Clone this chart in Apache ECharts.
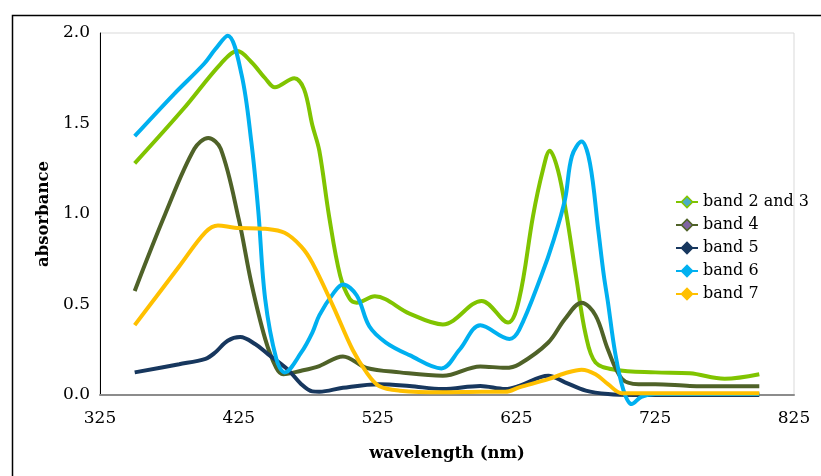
<!DOCTYPE html>
<html>
<head>
<meta charset="utf-8">
<script src="https://cdn.jsdelivr.net/npm/echarts@6/dist/echarts.min.js"></script>
<style>
html,body{margin:0;padding:0;background:#fff;}
#c{width:821px;height:476px;}
</style>
</head>
<body>
<div id="c"></div>
<script>
// ---- data (wavelength nm, absorbance) ----
const seriesNames = ['band 2 and 3', 'band 4', 'band 5', 'band 6', 'band 7'];
const xTicks = [325, 425, 525, 625, 725, 825];
const yTicks = [0.0, 0.5, 1.0, 1.5, 2.0];

const band23 = [[350,1.28],[385,1.58],[412,1.83],[424,1.90],[434,1.84],[444,1.75],[451,1.70],[465,1.75],[472,1.69],[478,1.49],[483,1.35],[490,0.99],[498,0.66],[505,0.53],[510,0.51],[523,0.545],[548,0.45],[572,0.39],[600,0.52],[619,0.40],[627,0.53],[637,0.99],[644,1.24],[649,1.35],[655,1.24],[661,1.0],[668,0.655],[675,0.33],[682,0.18],[696,0.14],[725,0.125],[750,0.12],[775,0.09],[800,0.115]];
const band4 = [[350,0.575],[372,1.0],[393,1.36],[403,1.42],[412,1.36],[425,0.97],[434,0.62],[444,0.31],[452,0.15],[457,0.115],[470,0.134],[483,0.16],[500,0.213],[517,0.15],[541,0.125],[572,0.106],[599,0.158],[617,0.15],[627,0.17],[648,0.29],[660,0.42],[672,0.51],[682,0.44],[691,0.25],[701,0.09],[713,0.06],[725,0.06],[750,0.05],[775,0.048],[800,0.048]];
const band5 = [[350,0.125],[382,0.17],[401,0.2],[408,0.235],[417,0.30],[426,0.32],[437,0.28],[446,0.226],[460,0.143],[470,0.06],[478,0.02],[483,0.018],[500,0.04],[526,0.06],[548,0.05],[572,0.033],[599,0.05],[617,0.033],[627,0.05],[648,0.106],[660,0.07],[675,0.024],[691,0.005],[710,0.0],[750,0.0],[800,0.0]];
const band6 = [[350,1.43],[378,1.66],[400,1.83],[408,1.91],[417,1.985],[427,1.77],[434,1.40],[439,1.02],[444,0.53],[452,0.20],[458,0.125],[470,0.235],[478,0.345],[483,0.44],[493,0.56],[500,0.61],[510,0.55],[519,0.38],[531,0.29],[548,0.22],[571,0.147],[584,0.25],[599,0.385],[620,0.31],[627,0.36],[643,0.66],[652,0.86],[660,1.08],[665,1.32],[672,1.40],[678,1.28],[684,0.91],[688,0.66],[691,0.51],[696,0.24],[702,0.03],[708,-0.05],[715,-0.01],[725,0.005],[750,0.005],[775,0.005],[800,0.005]];
const band7 = [[350,0.386],[382,0.71],[401,0.90],[410,0.937],[422,0.924],[444,0.918],[458,0.896],[470,0.82],[478,0.73],[493,0.49],[507,0.25],[517,0.125],[526,0.05],[541,0.024],[572,0.015],[600,0.018],[617,0.018],[627,0.042],[648,0.088],[660,0.12],[672,0.14],[682,0.115],[691,0.06],[701,0.01],[725,0.01],[750,0.01],[800,0.01]];

const seriesData = [band23, band4, band5, band6, band7];
const colors = ['#80C400', '#4F6228', '#17375E', '#00B0F0', '#FFC000'];
const markerFill = ['#4BACC6', '#8064A2', '#17375E', '#00B0F0', '#FFC000'];

const chart = echarts.init(document.getElementById('c'), null, {renderer: 'canvas'});
const serif = '"DejaVu Serif", "Liberation Serif", serif';

const option = {
  animation: false,
  backgroundColor: '#fff',
  graphic: [{
    type: 'rect', left: 10, top: 13, z: 100, silent: true,
    shape: {width: 840, height: 500},
    style: {fill: 'none', stroke: '#000', lineWidth: 1.5}
  }],
  grid: {left: 100, right: 27, top: 33, bottom: 81, show: true, borderColor: '#D9D9D9', borderWidth: 1, containLabel: false},
  legend: {
    orient: 'vertical', left: 675, top: 194, padding: 0,
    itemWidth: 22, itemHeight: 14, itemGap: 7,
    textStyle: {fontFamily: serif, fontSize: 16, color: '#000'},
    data: seriesNames.map((n, i) => ({name: n, itemStyle: {color: markerFill[i], borderColor: colors[i], borderWidth: 1.5}}))
  },
  xAxis: {
    type: 'value', min: xTicks[0], max: xTicks[xTicks.length - 1], interval: 100,
    name: 'wavelength (nm)', nameLocation: 'middle', nameGap: 50,
    nameTextStyle: {fontFamily: serif, fontSize: 16.5, fontWeight: 'bold', color: '#000'},
    axisLine: {show: true, onZero: false, lineStyle: {color: '#8C8C8C', width: 2}},
    axisTick: {show: false},
    splitLine: {show: false},
    axisLabel: {fontFamily: serif, fontSize: 17, color: '#000', margin: 15}
  },
  yAxis: {
    type: 'value', min: yTicks[0], max: yTicks[yTicks.length - 1], interval: 0.5,
    name: 'absorbance', nameLocation: 'middle', nameGap: 48, nameRotate: 90,
    nameTextStyle: {fontFamily: serif, fontSize: 16.5, fontWeight: 'bold', color: '#000'},
    axisLine: {show: true, lineStyle: {color: '#000', width: 1}},
    axisTick: {show: false},
    splitLine: {show: false},
    axisLabel: {fontFamily: serif, fontSize: 17, color: '#000', margin: 10, formatter: v => v.toFixed(1)}
  },
  series: seriesNames.map((n, i) => ({
    name: n, type: 'line', data: seriesData[i], clip: false,
    smooth: 0.35, symbol: 'diamond', symbolSize: 11, showSymbol: false,
    lineStyle: {color: colors[i], width: 4},
    itemStyle: {color: markerFill[i], borderColor: colors[i]},
    z: 2 + i
  }))
};
chart.setOption(option);
</script>
</body>
</html>
